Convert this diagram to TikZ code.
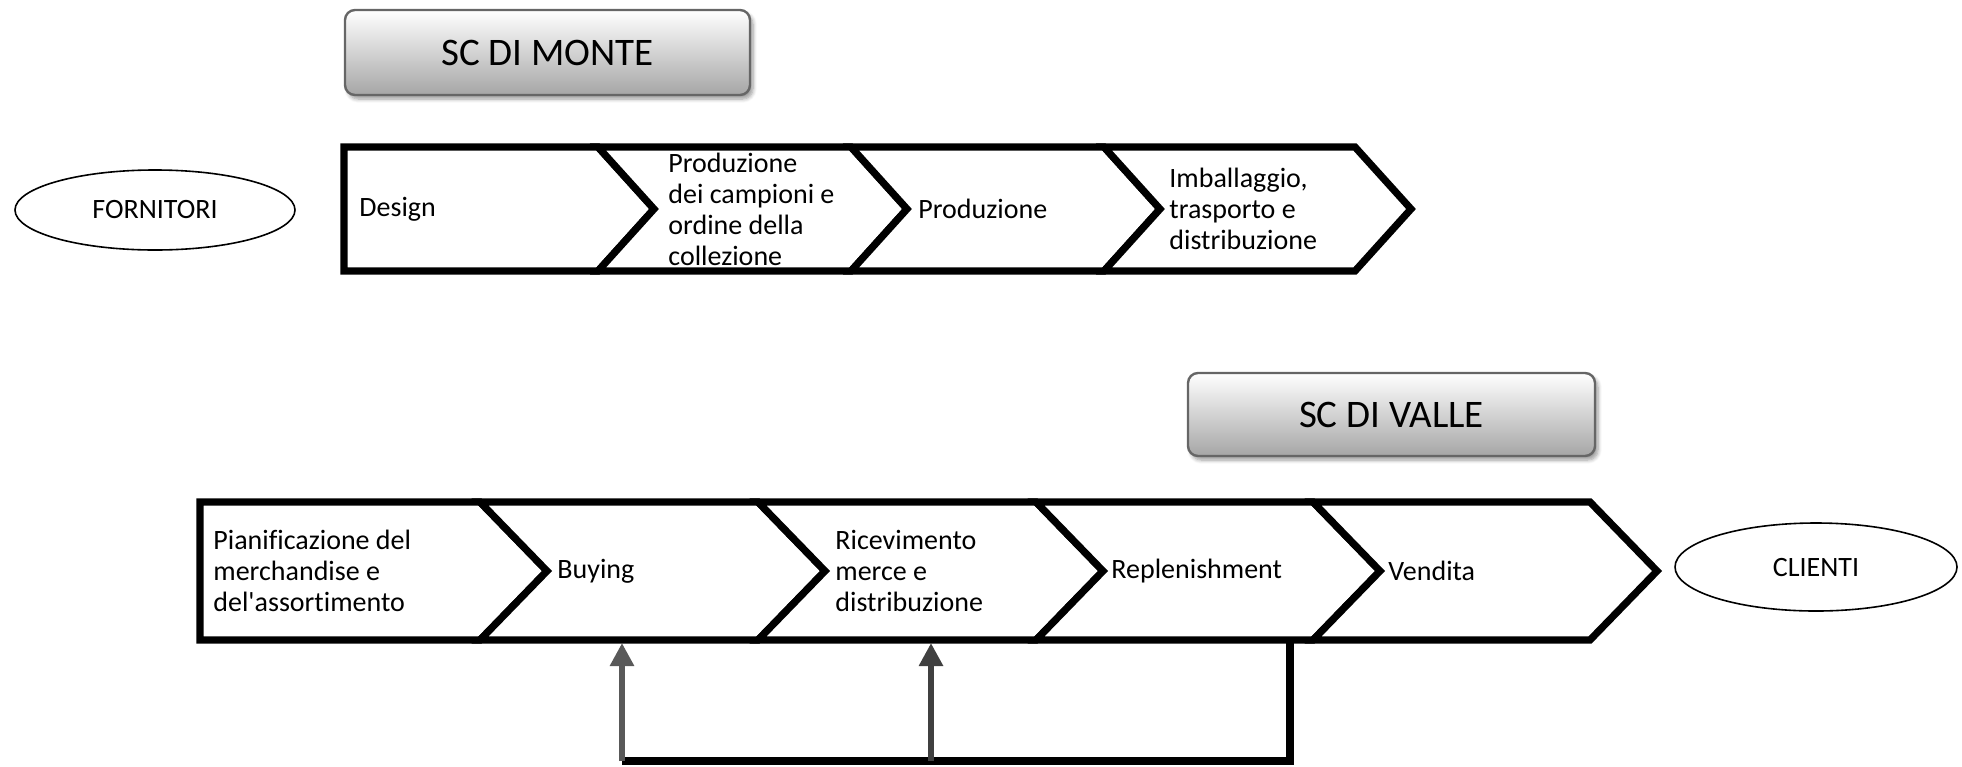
\documentclass[tikz,border=0pt]{standalone}
\usepackage{fontspec}
\setmainfont{Carlito}[Ligatures={TeXOff,NoCommon}]
\usetikzlibrary{arrows.meta,shadows.blur,shapes.geometric}
\begin{document}
\begin{tikzpicture}[x=0.5pt,y=-0.5pt,
  chev/.style={draw=black,line width=3.6pt,fill=white,line join=miter},
  lbl/.style={anchor=west,align=left,inner sep=0pt,font=\fontsize{14}{15.5}\selectfont},
  ell/.style={ellipse,draw=black,line width=0.8pt,inner sep=0pt,font=\fontsize{14}{15.5}\selectfont},
  hdr/.style={draw=black!60,line width=1.2pt,rounded corners=5pt,top color=white,bottom color=gray!70,
    font=\fontsize{19.5}{23}\selectfont,
    blur shadow={shadow xshift=1.5pt,shadow yshift=-2pt,shadow blur steps=6}},
  fb/.style={line width=4pt,draw=black},
  up/.style={line width=3.2pt,-{Triangle[width=11.5pt,length=11.5pt]}}
]
\useasboundingbox (0,0) rectangle (1962,766);

% headers
\node[hdr,minimum width=202.5pt,minimum height=42.5pt] (monte) at (547.5,52.5) {SC DI MONTE};
\node[hdr,minimum width=203.5pt,minimum height=41.5pt] (valle) at (1391.5,414.5) {SC DI VALLE};

% ellipses
\node[ell,minimum width=140pt,minimum height=40pt] (forn) at (155,210) {FORNITORI};
\node[ell,minimum width=141pt,minimum height=44pt] (clienti) at (1816,567) {CLIENTI};

% top chevron row
\draw[chev] (344,147) -- (598,147) -- (654,209) -- (598,271) -- (344,271) -- cycle;
\foreach \a/\b in {598/851, 851/1104, 1104/1355}{
  \draw[chev] (\a,147) -- (\b,147) -- (\b+56,209) -- (\b,271) -- (\a,271) -- (\a+56,209) -- cycle;
}
\node[lbl] (t1) at (359,209) {Design};
\node[lbl] (t2) at (668,209) {Produzione\\dei campioni e\\ordine della\\collezione};
\node[lbl] (t3) at (918,209) {Produzione};
\node[lbl] (t4) at (1169,209) {Imballaggio,\\trasporto e\\distribuzione};

% bottom chevron row
\draw[chev] (200,502) -- (480,502) -- (547,571) -- (480,640) -- (200,640) -- cycle;
\foreach \a/\b in {480/758, 758/1036, 1036/1313, 1313/1590}{
  \draw[chev] (\a,502) -- (\b,502) -- (\b+67,571) -- (\b,640) -- (\a,640) -- (\a+67,571) -- cycle;
}
\node[lbl] (b1) at (213,571) {Pianificazione del\\merchandise e\\del'assortimento};
\node[lbl] (b2) at (557,571) {Buying};
\node[lbl] (b3) at (835,571) {Ricevimento\\merce e\\distribuzione};
\node[lbl] (b4) at (1111,571) {Replenishment};
\node[lbl] (b5) at (1388,571) {Vendita};

% feedback loop
\coordinate (fbA) at (1290,642);
\coordinate (fbB) at (1290,761);
\coordinate (fbC) at (622,761);
\coordinate (fbD) at (931,761);
\coordinate (buyBot) at (622,643);
\coordinate (ricBot) at (931,643);
\draw[fb] (fbA) -- (fbB) -- (fbC);
\draw[up,draw=black!65] (fbC) -- (buyBot);
\draw[up,draw=black!75] (fbD) -- (ricBot);
\end{tikzpicture}
\end{document}
